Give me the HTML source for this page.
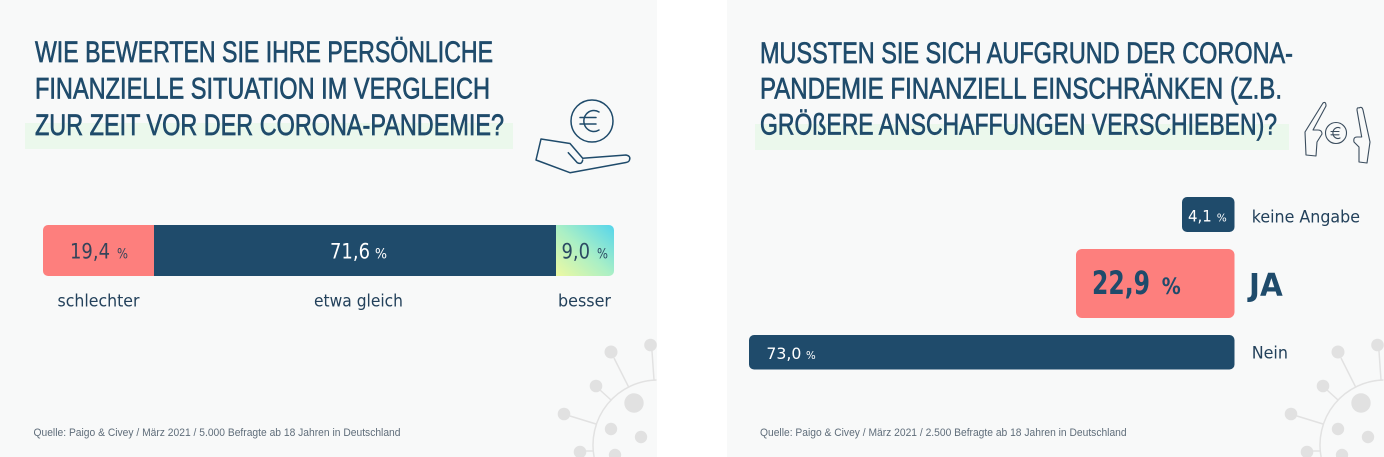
<!DOCTYPE html>
<html>
<head>
<meta charset="utf-8">
<style>
  html,body{margin:0;padding:0;background:#ffffff;width:1384px;height:457px;overflow:hidden;}
  svg{display:block;}
  .ttl{font-family:"Liberation Sans",sans-serif;font-size:29.5px;fill:#1f4b6b;stroke:#1f4b6b;stroke-width:0.7px;}
  .lbl{font-family:"DejaVu Sans","Liberation Sans",sans-serif;font-size:17px;fill:#23415b;}
  .num{font-family:"DejaVu Sans","Liberation Sans",sans-serif;}
  .src{font-family:"Liberation Sans",sans-serif;font-size:11px;fill:#5f6d7a;}
</style>
</head>
<body>
<svg width="1384" height="457" viewBox="0 0 1384 457" xmlns="http://www.w3.org/2000/svg">
  <defs>
    <clipPath id="barL"><rect x="43" y="225" width="571" height="51" rx="5" ry="5"/></clipPath>
    <linearGradient id="gB" x1="0" y1="1" x2="1" y2="0">
      <stop offset="0" stop-color="#eef9a2"/>
      <stop offset="0.5" stop-color="#a9efc6"/>
      <stop offset="1" stop-color="#55d5ec"/>
    </linearGradient>
    <g id="virus">
      <g stroke="#e2e2e2" stroke-width="1.5" fill="none">
        <path d="M594.1,457 A65,65 0 0 1 656.5,380.02"/>
        <line x1="614" y1="358" x2="628.6" y2="387"/>
        <line x1="652" y1="351" x2="654" y2="380"/>
        <line x1="600" y1="390" x2="611" y2="400"/>
        <line x1="570" y1="416" x2="596" y2="424"/>
        <line x1="586" y1="451" x2="593" y2="451"/>
      </g>
      <g fill="#e1e1e1">
        <circle cx="611" cy="352" r="6.5"/>
        <circle cx="650.5" cy="345" r="6.3"/>
        <circle cx="596" cy="386" r="6.3"/>
        <circle cx="564" cy="414" r="6.3"/>
        <path d="M576.17,457 A6.3,6.3 0 1 1 583.83,457 Z"/>
        <circle cx="634" cy="403" r="9.7"/>
        <circle cx="611" cy="429" r="6.2"/>
        <circle cx="641" cy="437" r="6.2"/>
        <path d="M609.13,457 A6.2,6.2 0 1 1 620.87,457 Z"/>
      </g>
    </g>
  </defs>

  <!-- panels -->
  <rect x="0" y="0" width="657" height="457" fill="#f8f9f9"/>
  <rect x="727" y="0" width="657" height="457" fill="#f8f9f9"/>

  <!-- virus decorations -->
  <use href="#virus"/>
  <use href="#virus" transform="translate(727,0)"/>

  <!-- ========== LEFT PANEL ========== -->
  <rect x="25" y="123" width="488" height="26" fill="#ebf8ec"/>
  <text class="ttl" x="35" y="62" textLength="458" lengthAdjust="spacingAndGlyphs">WIE BEWERTEN SIE IHRE PERSÖNLICHE</text>
  <text class="ttl" x="35" y="98.5" textLength="455" lengthAdjust="spacingAndGlyphs">FINANZIELLE SITUATION IM VERGLEICH</text>
  <text class="ttl" x="35" y="135" textLength="469" lengthAdjust="spacingAndGlyphs">ZUR ZEIT VOR DER CORONA-PANDEMIE?</text>

  <!-- hand with coin -->
  <g fill="none" stroke="#1f4b6b" stroke-width="1.5" stroke-linejoin="round" stroke-linecap="round">
    <circle cx="592" cy="121" r="21"/>
    <path d="M599,112 A10,10.5 0 1 0 599,130"/>
    <path d="M580,117.5 H596 M580,124 H596"/>
    <path d="M541,139 L570,143.5 L582.7,158.3 L626,155 Q631,156 629.5,160 Q629,162 626,162.5 L570,172.7 L536,160 Z"/>
    <path d="M568.3,152.7 L577.3,162.7 Q581.7,165 582.7,160"/>
  </g>

  <!-- stacked bar -->
  <g clip-path="url(#barL)">
    <rect x="43" y="225" width="111" height="51" fill="#fd7f7d"/>
    <rect x="154" y="225" width="402" height="51" fill="#1f4b6b"/>
    <rect x="556" y="225" width="58" height="51" fill="url(#gB)"/>
  </g>
  <text class="num" x="70" y="258.5" font-size="21" fill="#34445a" textLength="40" lengthAdjust="spacingAndGlyphs">19,4</text>
  <text class="num" x="117" y="258.5" font-size="14" fill="#34445a" textLength="11" lengthAdjust="spacingAndGlyphs">%</text>
  <text class="num" x="330" y="258.5" font-size="21" fill="#ffffff" textLength="40" lengthAdjust="spacingAndGlyphs">71,6</text>
  <text class="num" x="375" y="258.5" font-size="14" fill="#ffffff" textLength="12" lengthAdjust="spacingAndGlyphs">%</text>
  <text class="num" x="561.5" y="258.5" font-size="21" fill="#2b4a63" textLength="28.5" lengthAdjust="spacingAndGlyphs">9,0</text>
  <text class="num" x="597" y="258.5" font-size="14" fill="#2b4a63" textLength="11" lengthAdjust="spacingAndGlyphs">%</text>

  <text class="lbl" x="57.5" y="306.5" textLength="82" lengthAdjust="spacingAndGlyphs">schlechter</text>
  <text class="lbl" x="314" y="306.5" textLength="89" lengthAdjust="spacingAndGlyphs">etwa gleich</text>
  <text class="lbl" x="558" y="306.5" textLength="53" lengthAdjust="spacingAndGlyphs">besser</text>

  <text class="src" x="33.5" y="436" textLength="367" lengthAdjust="spacingAndGlyphs">Quelle: Paigo &amp; Civey / März 2021 / 5.000 Befragte ab 18 Jahren in Deutschland</text>

  <!-- ========== RIGHT PANEL ========== -->
  <rect x="755" y="124" width="534" height="26" fill="#ebf8ec"/>
  <text class="ttl" x="760" y="63" textLength="533" lengthAdjust="spacingAndGlyphs">MUSSTEN SIE SICH AUFGRUND DER CORONA-</text>
  <text class="ttl" x="760" y="98.5" textLength="522" lengthAdjust="spacingAndGlyphs">PANDEMIE FINANZIELL EINSCHRÄNKEN (Z.B.</text>
  <text class="ttl" x="760" y="134.5" textLength="517" lengthAdjust="spacingAndGlyphs">GRÖßERE ANSCHAFFUNGEN VERSCHIEBEN)?</text>

  <!-- hands with coin -->
  <g fill="none" stroke="#3b4d5e" stroke-width="1.1" stroke-linejoin="round" stroke-linecap="round">
    <circle cx="1336" cy="133" r="10.5"/>
    <path d="M1340,128 A5,5.5 0 1 0 1340,138"/>
    <path d="M1331,131.5 H1339 M1331,134.8 H1339"/>
    <path d="M1323,103 L1305,132 L1306,155 L1316,156 L1317,142 L1322,134 Q1322,130 1318,130 L1313,130 L1326,106 Q1326,101 1323,103 Z"/>
    <path d="M1359,108 Q1362,106 1363,110 L1370,142 L1367,163 L1359,162 L1359,147 L1354,142 Q1353,137 1357,137 L1361.7,137 L1357,110 Q1357,107 1359,108 Z"/>
  </g>

  <!-- keine Angabe -->
  <rect x="1182" y="197" width="52.5" height="35" rx="5" ry="5" fill="#1f4b6b"/>
  <text class="num" x="1188" y="221.7" font-size="16" fill="#ffffff" textLength="23.7" lengthAdjust="spacingAndGlyphs">4,1</text>
  <text class="num" x="1216.7" y="221.7" font-size="11" fill="#ffffff" textLength="10" lengthAdjust="spacingAndGlyphs">%</text>
  <text class="lbl" x="1251.7" y="222.3" textLength="108.3" lengthAdjust="spacingAndGlyphs">keine Angabe</text>

  <!-- JA -->
  <rect x="1076" y="249" width="158.5" height="69" rx="6" ry="6" fill="#fd7f7d"/>
  <text class="num" x="1092" y="294" font-size="32" font-weight="bold" fill="#1f4b6b" textLength="58" lengthAdjust="spacingAndGlyphs">22,9</text>
  <text class="num" x="1161.7" y="294" font-size="22" font-weight="bold" fill="#1f4b6b" textLength="19" lengthAdjust="spacingAndGlyphs">%</text>
  <text class="num" x="1249" y="295.3" font-size="31" font-weight="bold" fill="#1f4b6b" textLength="33.7" lengthAdjust="spacingAndGlyphs">JA</text>

  <!-- Nein -->
  <rect x="749" y="335" width="485.5" height="34.5" rx="5" ry="5" fill="#1f4b6b"/>
  <text class="num" x="766.4" y="359" font-size="16" fill="#ffffff" textLength="35" lengthAdjust="spacingAndGlyphs">73,0</text>
  <text class="num" x="806" y="359" font-size="11" fill="#ffffff" textLength="9.7" lengthAdjust="spacingAndGlyphs">%</text>
  <text class="lbl" x="1251.7" y="358.3" textLength="36.3" lengthAdjust="spacingAndGlyphs">Nein</text>

  <text class="src" x="760" y="436" textLength="366.6" lengthAdjust="spacingAndGlyphs">Quelle: Paigo &amp; Civey / März 2021 / 2.500 Befragte ab 18 Jahren in Deutschland</text>
</svg>
</body>
</html>
